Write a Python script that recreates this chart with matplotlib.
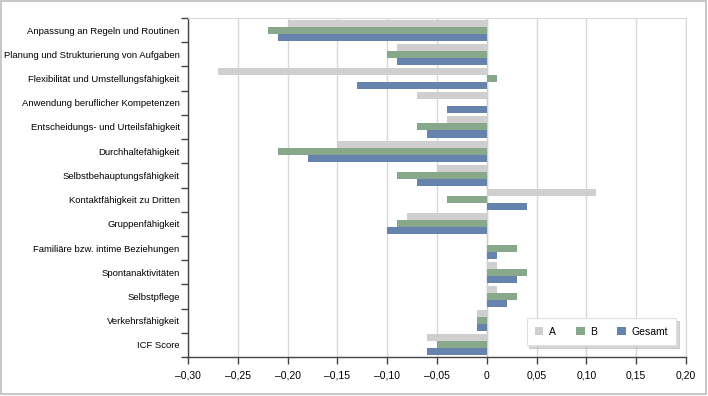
import numpy as np
import matplotlib.pyplot as plt
from matplotlib.patches import Rectangle

plt.rcParams['font.family'] = ['Liberation Sans', 'DejaVu Sans']

categories = ['Anpassung an Regeln und Routinen',
              'Planung und Strukturierung von Aufgaben',
              'Flexibilität und Umstellungsfähigkeit',
              'Anwendung beruflicher Kompetenzen',
              'Entscheidungs- und Urteilsfähigkeit',
              'Durchhaltefähigkeit',
              'Selbstbehauptungsfähigkeit',
              'Kontaktfähigkeit zu Dritten',
              'Gruppenfähigkeit',
              'Familiäre bzw. intime Beziehungen',
              'Spontanaktivitäten',
              'Selbstpflege',
              'Verkehrsfähigkeit',
              'ICF Score']
vals_a = [-0.20, -0.09, -0.27, -0.07, -0.04, -0.15, -0.05, 0.11, -0.08, 0.00, 0.01, 0.01, -0.01, -0.06]
vals_b = [-0.22, -0.10, 0.01, 0.00, -0.07, -0.21, -0.09, -0.04, -0.09, 0.03, 0.04, 0.03, -0.01, -0.05]
vals_g = [-0.21, -0.09, -0.13, -0.04, -0.06, -0.18, -0.07, 0.04, -0.10, 0.01, 0.03, 0.02, -0.01, -0.06]
xticks = [-0.30, -0.25, -0.20, -0.15, -0.10, -0.05, 0, 0.05, 0.10, 0.15, 0.20]
xtick_labels = ['–0,30', '–0,25', '–0,20', '–0,15', '–0,10', '–0,05', '0',
                '0,05', '0,10', '0,15', '0,20']

fig = plt.figure(figsize=(7.08, 3.96), dpi=100)
ax = fig.add_axes([0.2655, 0.0985, 0.7035, 0.856])

# frame round the whole figure
fig.patches.append(Rectangle((0.002, 0.006), 0.995, 0.991, transform=fig.transFigure,
                             fill=False, edgecolor='#bdbdbd', linewidth=1.2))

y = np.arange(len(categories))
h = 0.29
ax.barh(y - h, vals_a, height=h, color='#cfcfcf', label='A', zorder=3)
ax.barh(y, vals_b, height=h, color='#88a88c', label='B', zorder=3)
ax.barh(y + h, vals_g, height=h, color='#6683ad', label='Gesamt', zorder=3)

ax.set_ylim(len(categories) - 0.5, -0.5)
ax.set_xlim(-0.30, 0.20)
ax.set_xticks(xticks)
ax.set_xticklabels(xtick_labels, fontsize=7.5)
ax.set_yticks(y)
ax.set_yticklabels(categories, fontsize=6.8)
ax.set_yticks(np.arange(len(categories) + 1) - 0.5, minor=True)

ax.tick_params(axis='y', which='major', length=0, pad=6)
ax.tick_params(axis='y', which='minor', length=5, width=1, color='#444444')
ax.tick_params(axis='x', length=5, width=1, color='#444444', pad=5)

ax.grid(axis='x', color='#d9d9d9', linewidth=1, zorder=0)
ax.axvline(0, color='#d0d0d0', linewidth=1, zorder=2)
for side in ['top', 'right']:
    ax.spines[side].set_color('#d9d9d9')
for side in ['left', 'bottom']:
    ax.spines[side].set_color('#444444')
    ax.spines[side].set_linewidth(1)

leg = ax.legend(loc='lower right', ncol=3, fontsize=7.5, frameon=True, fancybox=False,
                shadow={'color': '#bbbbbb', 'alpha': 0.6}, edgecolor='#e0e0e0',
                handlelength=0.8, handleheight=0.9,
                handletextpad=0.5, columnspacing=2.0, borderpad=0.8,
                bbox_to_anchor=(0.99, 0.02))
leg.get_frame().set_linewidth(0.8)

fig.savefig('out.png', dpi=100)
